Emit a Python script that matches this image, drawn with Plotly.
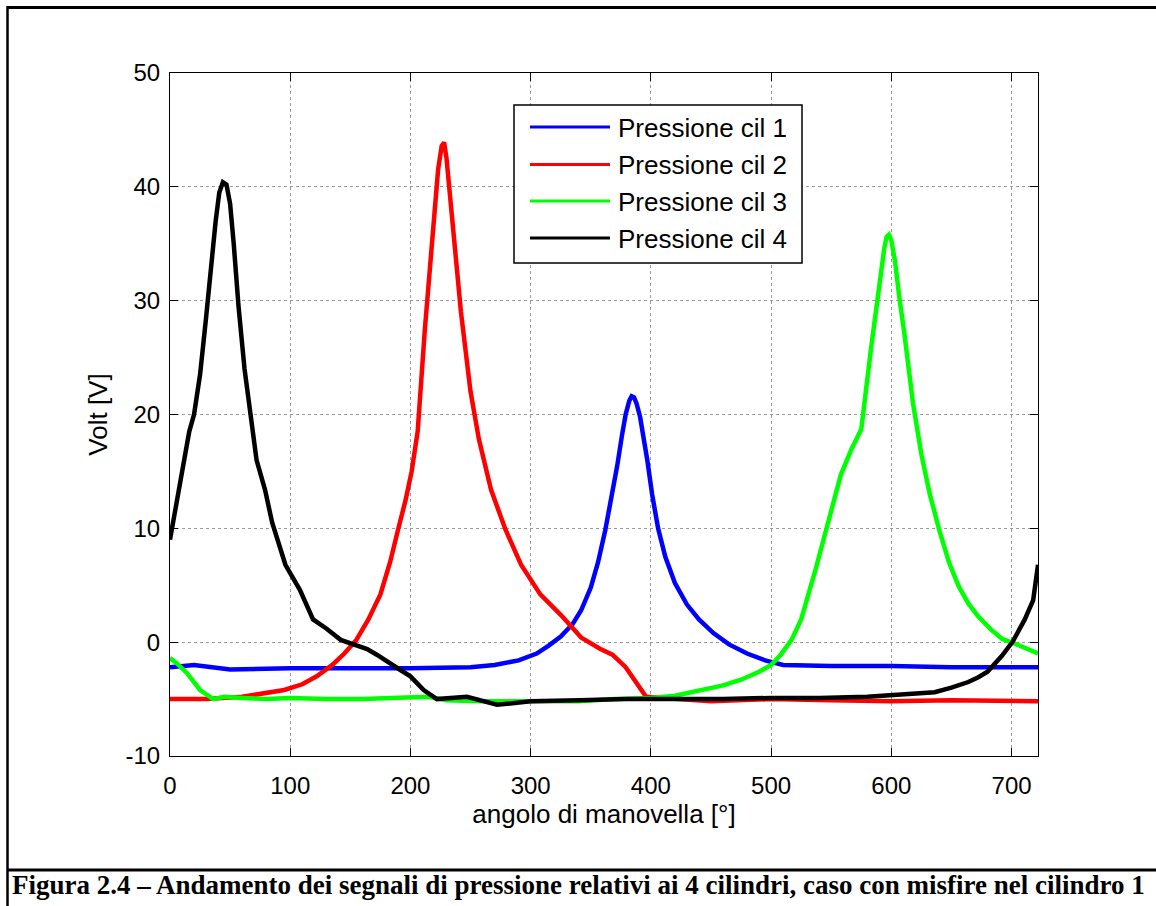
import plotly.graph_objects as go

# ---------------- data ----------------
angle_c1 = [0, 20, 50, 100, 150, 200, 250, 270, 290, 305, 315, 325, 335, 342, 350, 356, 362, 367, 372, 376,
            379, 382, 384, 386, 388, 391, 394, 397, 401, 406, 412, 420, 430, 440, 452, 465, 480, 495, 510, 550,
            600, 650, 700, 722]
volt_c1 = [-2.2, -2.0, -2.4, -2.3, -2.3, -2.3, -2.2, -2.0, -1.6, -1.0, -0.3, 0.5, 1.6, 2.8, 4.8, 7.0, 9.8, 12.5, 15.5, 18.2,
           20.0, 21.2, 21.6, 21.5, 21.0, 19.8, 18.0, 16.0, 13.0, 10.0, 7.5, 5.2, 3.3, 2.0, 0.8, -0.2, -1.0, -1.6, -2.0, -2.1,
           -2.1, -2.2, -2.2, -2.2]

angle_c2 = [0, 30, 60, 80, 95, 110, 122, 135, 145, 155, 165, 175, 183, 190, 196, 201, 206, 212, 216, 220, 223, 226,
            228, 230, 233, 237, 242, 250, 257, 267, 279, 292, 308, 325, 342, 358, 368, 379, 387, 396, 450, 500, 550,
            600, 650, 700, 722]
volt_c2 = [-5.0, -5.0, -4.8, -4.5, -4.2, -3.7, -3.0, -2.0, -1.0, 0.2, 2.0, 4.2, 7.0, 10.0, 12.5, 15.0, 18.5, 27.5, 33.0, 38.0, 41.5, 43.6,
           43.9, 42.5, 39.0, 34.0, 29.0, 22.0, 17.8, 13.4, 9.9, 6.8, 4.2, 2.4, 0.4, -0.6, -1.1, -2.2, -3.5, -4.8, -5.2, -5.0, -5.1,
           -5.2, -5.1, -5.2, -5.2]

angle_c3 = [0, 5, 14, 25, 36, 45, 60, 80, 100, 130, 160, 190, 215, 230, 260, 300, 340, 370, 400, 420, 442, 460, 475,
            490, 500, 508, 517, 525, 537, 550, 558, 567, 575, 583, 590, 594, 596, 598, 600, 603, 607, 611, 618, 625,
            632, 640, 648, 656, 664, 672, 683, 692, 702, 712, 722]
volt_c3 = [-1.4, -1.8, -2.7, -4.2, -5.0, -4.8, -4.9, -5.0, -4.9, -5.0, -5.0, -4.9, -4.8, -5.1, -5.2, -5.2, -5.2, -5.0, -4.9, -4.7, -4.2, -3.8, -3.3,
           -2.6, -2.0, -1.1, 0.2, 2.0, 6.4, 11.7, 14.7, 17.0, 18.7, 25.7, 31.5, 34.5, 35.6, 35.8, 35.3, 33.5, 30.0, 27.0, 21.0, 16.5,
           13.0, 9.8, 7.0, 4.9, 3.4, 2.3, 1.1, 0.3, -0.1, -0.6, -1.0]

angle_c4 = [0, 4, 8, 12, 16, 20, 25, 30, 35, 38, 41, 44, 47, 50, 53, 57, 62, 67, 72, 79, 85, 96, 108, 119, 130, 142,
            150, 164, 172, 183, 191, 200, 211, 222, 247, 272, 300, 340, 380, 420, 460, 500, 540, 580, 604, 620, 636,
            650, 664, 672, 680, 692, 701, 711, 718, 722]
volt_c4 = [9.0, 11.5, 14.0, 16.5, 18.5, 20.0, 23.5, 28.5, 34.0, 37.0, 39.5, 40.4, 40.2, 38.5, 35.0, 29.5, 24.0, 19.6, 16.0, 13.4, 10.5, 6.8, 4.6, 2.0, 1.2,
            0.2, -0.1, -0.6, -1.1, -1.8, -2.4, -3.0, -4.2, -5.0, -4.8, -5.5, -5.2, -5.1, -5.0, -5.0, -5.0, -4.9, -4.9, -4.8, -4.6,
            -4.5, -4.4, -4.0, -3.5, -3.1, -2.6, -1.2, 0.06, 2.0, 3.7, 6.8]

series_names = ["Pressione cil 1", "Pressione cil 2", "Pressione cil 3", "Pressione cil 4"]
series_x = [angle_c1, angle_c2, angle_c3, angle_c4]
series_y = [volt_c1, volt_c2, volt_c3, volt_c4]
series_colors = ["#0000ff", "#ff0000", "#00ff00", "#000000"]

x_ticks = [0, 100, 200, 300, 400, 500, 600, 700]
y_ticks = [-10, 0, 10, 20, 30, 40, 50]

x_title = "angolo di manovella [°]"
y_title = "Volt [V]"
caption = "Figura 2.4 – Andamento dei segnali di pressione relativi ai 4 cilindri, caso con misfire nel cilindro 1"

# ---------------- layout geometry ----------------
W, H = 1156, 906
L, R, T, B = 170, 1038, 73, 756  # plot area in pixels


def px(xpix):
    return (xpix - L) / (R - L)


def py(ypix):
    return (B - ypix) / (B - T)


fig = go.Figure()
for name, xs, ys, col in zip(series_names, series_x, series_y, series_colors):
    fig.add_trace(go.Scatter(x=xs, y=ys, mode="lines", name=name,
                             line=dict(color=col, width=4.5), showlegend=False))

tick_font = dict(family="Liberation Sans, Arial, sans-serif", size=24, color="black")
label_font = dict(family="Liberation Sans, Arial, sans-serif", size=26, color="black")
common_axis = dict(showline=True, linecolor="black", linewidth=1, mirror="ticks",
                   ticks="inside", ticklen=8, tickcolor="black", tickwidth=1,
                   showgrid=True, gridcolor="#9a9a9a", gridwidth=1, griddash="dot",
                   zeroline=False, tickfont=tick_font)

fig.update_xaxes(range=[0, 722], tickvals=x_ticks, ticktext=[str(v) for v in x_ticks],
                 title=dict(text=x_title, font=label_font, standoff=7), ticklabelstandoff=8, **common_axis)
fig.update_yaxes(range=[-10, 50], tickvals=y_ticks, ticktext=[str(v) for v in y_ticks],
                 title=dict(text=y_title, font=label_font, standoff=10), ticklabelstandoff=4, **common_axis)

shapes = []
# outer frame lines
shapes.append(dict(type="line", xref="paper", yref="paper", x0=px(7), x1=px(1160), y0=py(7.5), y1=py(7.5),
                   line=dict(color="black", width=3)))
shapes.append(dict(type="line", xref="paper", yref="paper", x0=px(7.5), x1=px(7.5), y0=py(6), y1=py(910),
                   line=dict(color="black", width=2.5)))
shapes.append(dict(type="line", xref="paper", yref="paper", x0=px(7), x1=px(1160), y0=py(870), y1=py(870),
                   line=dict(color="black", width=3)))

# legend box
shapes.append(dict(type="rect", xref="paper", yref="paper", x0=px(514), x1=px(802), y0=py(105), y1=py(263),
                   line=dict(color="black", width=1.5), fillcolor="white", layer="above"))
entry_y = [127, 164.5, 201, 238]
annotations = []
for name, col, yy in zip(series_names, series_colors, entry_y):
    shapes.append(dict(type="line", xref="paper", yref="paper", x0=px(530), x1=px(610), y0=py(yy), y1=py(yy),
                       line=dict(color=col, width=3), layer="above"))
    annotations.append(dict(text=name, xref="paper", yref="paper", x=px(616), y=py(yy + 1), xanchor="left",
                            yanchor="middle", showarrow=False, font=label_font))

annotations.append(dict(text="<b>" + caption + "</b>", xref="paper", yref="paper", x=px(10), y=py(885),
                        xanchor="left", yanchor="middle", showarrow=False,
                        font=dict(family="Liberation Serif, Times New Roman, serif", size=27, color="black")))

fig.update_layout(width=W, height=H, margin=dict(l=L, r=W - R, t=T, b=H - B),
                  paper_bgcolor="white", plot_bgcolor="white", shapes=shapes, annotations=annotations,
                  showlegend=False)

fig.write_html("out.html")
